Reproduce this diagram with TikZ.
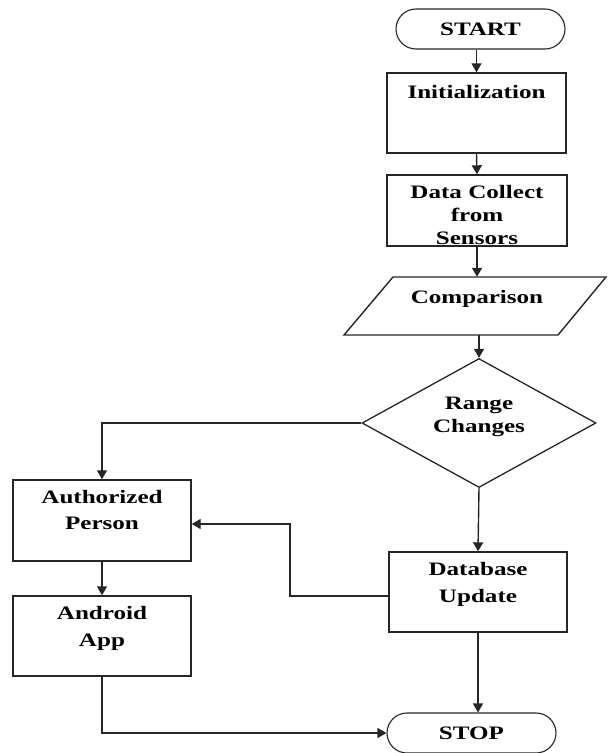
\documentclass[tikz,border=0pt]{standalone}
\usepackage{fontspec}
\setmainfont{Liberation Serif}[FakeStretch=1.32]
\usetikzlibrary{arrows.meta,shapes.geometric,shapes.misc}
\begin{document}
\begin{tikzpicture}[x=1pt,y=-1pt,
  txt/.style={font=\fontsize{19}{25}\selectfont\bfseries},
  line/.style={draw=black!85, line width=1.4pt},
  arr/.style={line, -{Triangle[length=9pt,width=10pt]}},
  box/.style={draw=black!85, line width=1.4pt, rectangle, inner sep=0pt},
  term/.style={txt, draw=black!85, line width=1.1pt, rounded rectangle, minimum width=169pt, minimum height=40pt, inner sep=0pt},
  lbl/.style={txt, anchor=north, inner sep=0pt, align=center},
]
\useasboundingbox (0,0) rectangle (608,753);

\node[term] (start) at (480.5,29) {START};
\node[box, minimum width=179pt, minimum height=80pt,
  label={[lbl,yshift=-13pt]north:Initialization}] (init) at (476.5,113) {};
\node[box, minimum width=180pt, minimum height=71pt,
  label={[lbl,yshift=-11pt,font=\fontsize{19}{23}\selectfont\bfseries]north:{Data Collect\\from\\Sensors}}] (data) at (477,210.5) {};

\draw[line] (393,277) -- (606,277) -- (558,335) -- (344,335) -- cycle;
\node[minimum width=165pt, minimum height=58pt, inner sep=0pt,
  label={[lbl,yshift=-13pt]north:Comparison}] (comp) at (477,306) {};

\node[diamond, draw=black!85, line width=1.3pt, minimum width=234pt, minimum height=129pt, inner sep=0pt,
  label={[txt, align=center, inner sep=0pt, yshift=6pt, font=\fontsize{19}{23}\selectfont\bfseries]center:{Range\\Changes}}] (dec) at (479,423) {};

\node[box, minimum width=178pt, minimum height=81pt,
  label={[lbl,yshift=-11pt,font=\fontsize{19}{26}\selectfont\bfseries]north:{Authorized\\Person}}] (auth) at (102,520.5) {};
\node[box, minimum width=178pt, minimum height=80pt,
  label={[lbl,yshift=-10.5pt,font=\fontsize{19}{27}\selectfont\bfseries]north:{Android\\App}}] (andr) at (102,636) {};
\node[box, minimum width=178pt, minimum height=80pt,
  label={[lbl,yshift=-10.5pt,font=\fontsize{19}{27}\selectfont\bfseries]north:{Database\\Update}}] (db) at (478,592) {};

\node[term] (stop) at (471.5,733) {STOP};

\coordinate (k1) at (290,596);
\coordinate (k2) at (290,524);

\draw[arr] (start.south -| init.north) -- (init.north);
\draw[arr] (init.south) -- (data.north);
\draw[arr] (data.south) -- (data.south |- comp.north);
\draw[arr] (comp.south -| dec.north) -- (dec.north);
\draw[arr] (dec.west) -| (auth.north);
\draw[arr] (dec.south) -- (db.north);
\draw[arr] (db.west |- k1) -- (k1) -- (k2) -- (auth.east |- k2);
\draw[arr] (auth.south) -- (andr.north);
\draw[arr] (andr.south) |- (stop.west);
\draw[arr] (db.south) -- (db.south |- stop.north);
\end{tikzpicture}
\end{document}
